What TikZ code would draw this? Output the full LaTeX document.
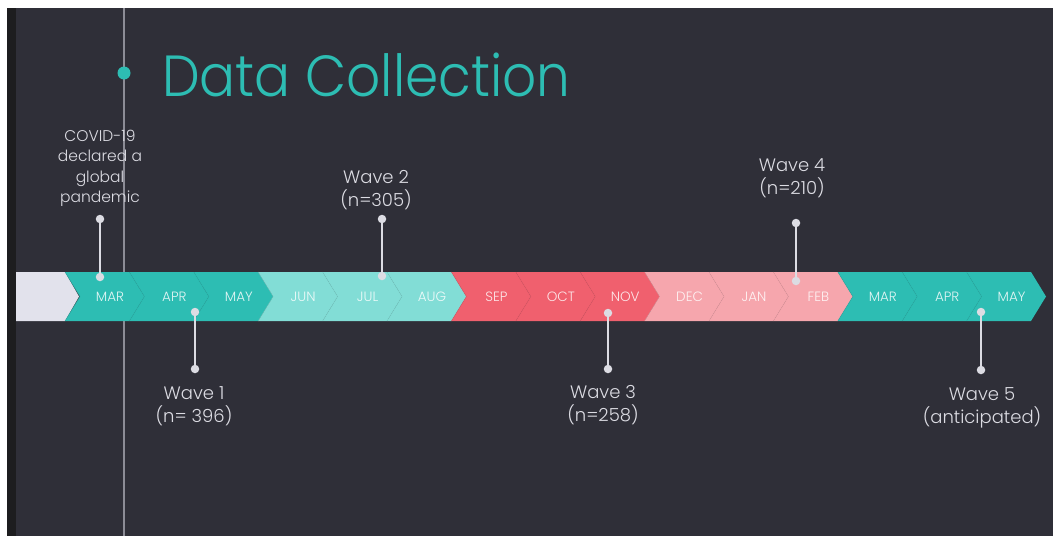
\documentclass[tikz,border=0pt]{standalone}
\usepackage{fontspec}
\setmainfont{Poppins Light}
\usepackage{xcolor}
\definecolor{bgdark}{HTML}{2F2F38}
\definecolor{stripdark}{HTML}{1D1D1F}
\definecolor{tealdark}{HTML}{2DBDB3}
\definecolor{teallight}{HTML}{82DDD6}
\definecolor{redmain}{HTML}{F0606E}
\definecolor{pinklight}{HTML}{F6A6AD}
\definecolor{greystart}{HTML}{E2E2EC}
\definecolor{pincol}{HTML}{DCDCE3}
\definecolor{axiscol}{HTML}{8C8C96}
\tikzstyle{monthlabel} = [text=white, text opacity=0.85, font=\fontsize{13.5}{13.5}\selectfont,
    inner sep=0]
\tikzstyle{pindot} = [circle, fill=pincol, inner sep=0, minimum size=8.5pt]
\tikzstyle{pinline} = [draw=pincol, line width=2pt]
\tikzstyle{wavetext} = [text=pincol, font=\fontsize{18}{23}\selectfont, align=center,
    inner sep=0, anchor=north]

\begin{document}
\begin{tikzpicture}[x=1pt, y=-1pt]
\useasboundingbox (0,0) rectangle (1054,536);
\fill[white] (0,0) rectangle (1054,536);
\fill[stripdark] (7,8) rectangle (16,536);
\fill[bgdark] (16,8) rectangle (1053,536);
% time axis and title
\coordinate (axistop) at (124,8);
\coordinate (axisbot) at (124,536);
\draw[axiscol, line width=1.3pt] (axistop) -- (axisbot);
\node[circle, fill=tealdark, inner sep=0, minimum size=13pt] (titledot) at (124,73) {};
\node[anchor=base west, inner sep=0, text=tealdark, font=\fontsize{58}{58}\selectfont]
    (title) at (162,96) {\scalebox{0.92}[1]{Data Collection}};
% month band
\fill[greystart] (16,272) -- (65,272) -- (79,296.5) -- (65,321) -- (16,321) -- cycle;
\foreach \mon/\col [count=\i, evaluate=\i as \L using 65+(\i-1)*64.4] in
    {MAR/tealdark, APR/tealdark, MAY/tealdark, JUN/teallight, JUL/teallight, AUG/teallight,
     SEP/redmain, OCT/redmain, NOV/redmain, DEC/pinklight, JAN/pinklight, FEB/pinklight,
     MAR/tealdark, APR/tealdark, MAY/tealdark}
{
    \fill[\col] (\L,272) -- ++(64.4,0) -- ++(15,24.5) -- ++(-15,24.5) -- ++(-64.4,0)
        -- ++(15,-24.5) -- cycle;
    \draw[\col!88!black, line width=0.6pt, opacity=0.5] (\L,272) -- ++(15,24.5) -- ++(-15,24.5);
    \node[monthlabel] (m\i) at (\L+45,296.5) {\mon};
}
% pins
\node[pindot] (covidtop) at (100,219) {};
\node[pindot] (covidbot) at (100,277) {};
\draw[pinline] (covidtop) -- (covidbot);
\node[wavetext, font=\fontsize{15.5}{20.3}\selectfont] (covid) at (100,130)
    {COVID-19\\declared a\\global\\pandemic};

\node[pindot] (waveatop) at (195,312) {};
\node[pindot] (waveabot) at (195,369) {};
\draw[pinline] (waveatop) -- (waveabot);
\node[wavetext] (wavea) at (194,386) {Wave 1\\(n= 396)};

\node[pindot] (wavebtop) at (382,219) {};
\node[pindot] (wavebbot) at (382,276) {};
\draw[pinline] (wavebtop) -- (wavebbot);
\node[wavetext] (waveb) at (376,170) {Wave 2\\(n=305)};

\node[pindot] (wavectop) at (608,313) {};
\node[pindot] (wavecbot) at (608,369) {};
\draw[pinline] (wavectop) -- (wavecbot);
\node[wavetext] (wavec) at (603,385) {Wave 3\\(n=258)};

\node[pindot] (wavedtop) at (796,223) {};
\node[pindot] (wavedbot) at (796,281) {};
\draw[pinline] (wavedtop) -- (wavedbot);
\node[wavetext] (waved) at (792,158) {Wave 4\\(n=210)};

\node[pindot] (waveetop) at (981,312) {};
\node[pindot] (waveebot) at (981,370) {};
\draw[pinline] (waveetop) -- (waveebot);
\node[wavetext] (wavee) at (982,387) {Wave 5\\(anticipated)};
\end{tikzpicture}
\end{document}
